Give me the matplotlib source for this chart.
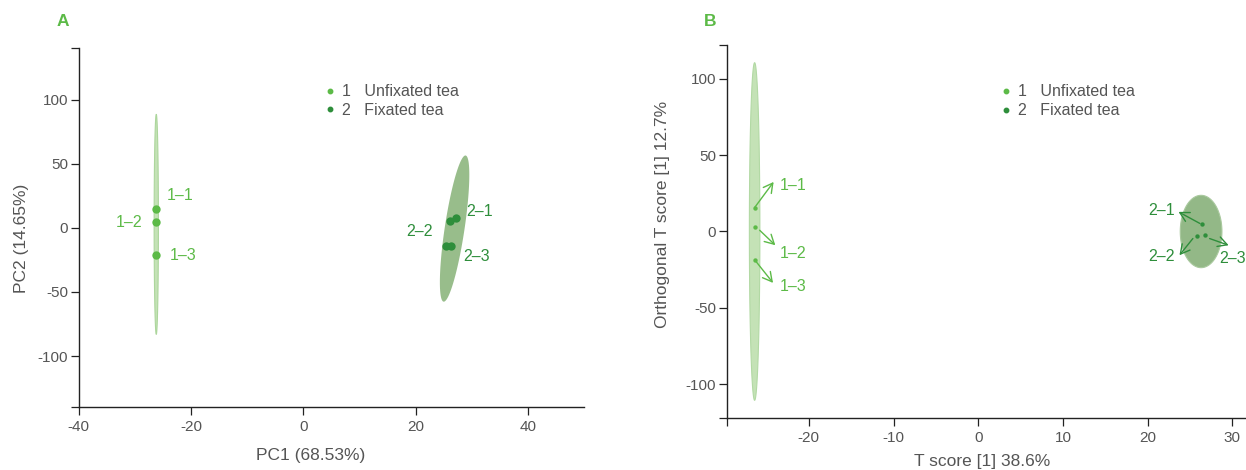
import numpy as np
import matplotlib.pyplot as plt
from matplotlib.lines import Line2D
from matplotlib.transforms import offset_copy

plt.rcParams['font.family'] = ['Liberation Sans', 'DejaVu Sans']
plt.rcParams['axes.unicode_minus'] = False

LIGHT = '#5cba47'
DARK = '#2e8e3b'
GRAY = '#555555'

# --- A: PCA scores ---
pca_x1 = [-26.2, -26.2, -26.2]
pca_y1 = [14.7, 4.5, -21.2]
pca_x2 = [27.1, 26.0, 25.3, 26.2]
pca_y2 = [7.4, 5.3, -14.0, -14.0]
pca_lab1 = ['1–1', '1–2', '1–3']
pca_lab2 = ['2–1', '2–2', '2–3']
pca_lab2_idx = [0, 1, 3]
# ellipse = centre, semi-major vector, semi-minor vector (data units)
pca_ell1 = ((-26.2, 2.7), (0.0, 85.8), (0.38, 0.0))
pca_ell2 = ((26.9, -0.6), (1.96, 57.0), (1.74, -1.15))

# --- B: OPLS-DA scores ---
opls_x1 = [-26.4, -26.4, -26.4]
opls_y1 = [15.7, 3.0, -18.8]
opls_x2 = [26.4, 25.8, 26.8]
opls_y2 = [4.6, -2.9, -2.0]
opls_lab1 = ['1–1', '1–2', '1–3']
opls_lab2 = ['2–1', '2–2', '2–3']
opls_ell1 = ((-26.4, 0.0), (0.0, 110.6), (0.62, 0.0))
opls_ell2 = ((26.3, 0.0), (0.0, 23.7), (2.46, 0.0))

groups = ['Unfixated tea', 'Fixated tea']


def fill_ellipse(ax, ell, color, edge=None):
    (cx, cy), (ax_, ay_), (bx, by) = ell
    t = np.linspace(0, 2 * np.pi, 200)
    x = cx + ax_ * np.cos(t) + bx * np.sin(t)
    y = cy + ay_ * np.cos(t) + by * np.sin(t)
    ax.fill(x, y, facecolor=color, edgecolor=edge or 'none', lw=0.8, zorder=1)


def style_axes(ax, xt, xtl, yt, ytl, xlim, ylim):
    ax.set_xlim(*xlim)
    ax.set_ylim(*ylim)
    ax.set_xticks(xt)
    ax.set_xticklabels(xtl)
    ax.set_yticks(yt)
    ax.set_yticklabels(ytl)
    for s in ['top', 'right']:
        ax.spines[s].set_visible(False)
    for s in ['left', 'bottom']:
        ax.spines[s].set_color('#222222')
        ax.spines[s].set_linewidth(1.0)
    ax.tick_params(direction='out', length=5.5, width=0.9, color='#222222',
                   labelsize=11, labelcolor=GRAY)
    ax.tick_params(axis='x', pad=4)
    ax.tick_params(axis='y', pad=2)


def add_legend(ax, anchor):
    handles = [Line2D([], [], ls='none', marker='o', ms=3.2, color=c) for c in (LIGHT, DARK)]
    labels = [f'{i + 1}   {g}' for i, g in enumerate(groups)]
    leg = ax.legend(handles, labels, loc='center left', bbox_to_anchor=anchor,
                    frameon=False, fontsize=11.5, handlelength=0.5, handletextpad=0.5,
                    borderpad=0, borderaxespad=0, labelspacing=0.25)
    for t in leg.get_texts():
        t.set_color(GRAY)


fig = plt.figure(figsize=(12.46, 4.70), dpi=100)
axA = fig.add_axes([0.0632, 0.1334, 0.4058, 0.7638])
axB = fig.add_axes([0.5832, 0.1113, 0.4168, 0.7923])

# ---------- A ----------
fill_ellipse(axA, pca_ell1, '#c4e2b6', '#acd69c')
fill_ellipse(axA, pca_ell2, '#98bd8b')
axA.scatter(pca_x1, pca_y1, s=36, color=LIGHT, zorder=3, lw=0)
axA.scatter(pca_x2, pca_y2, s=36, color=DARK, zorder=3, lw=0)

offA1 = [(10, 13, 'left'), (-13.5, 0, 'right'), (13, -1, 'left')]
for x, y, lab, (dx, dy, ha) in zip(pca_x1, pca_y1, pca_lab1, offA1):
    axA.annotate(lab, (x, y), xytext=(dx, dy), textcoords='offset pixels',
                 ha=ha, va='center', color=LIGHT, fontsize=11.5)
offA2 = [(11, 6.6, 'left'), (-17, -10.7, 'right'), (13, -11, 'left')]
for i, lab, (dx, dy, ha) in zip(pca_lab2_idx, pca_lab2, offA2):
    axA.annotate(lab, (pca_x2[i], pca_y2[i]), xytext=(dx, dy), textcoords='offset pixels',
                 ha=ha, va='center', color=DARK, fontsize=11.5)

style_axes(axA, [-40, -20, 0, 20, 40], ['-40', '-20', '0', '20', '40'],
           [-140, -100, -50, 0, 50, 100, 140], ['', '-100', '-50', '0', '50', '100', ''],
           (-40, 50), (-140, 140))
add_legend(axA, (0.489, 0.853))
axA.set_xlabel('PC1 (68.53%)', fontsize=12.5, color=GRAY, va='center')
axA.xaxis.set_label_coords(0.459, -0.134)
axA.set_ylabel('PC2 (14.65%)', fontsize=12.5, color=GRAY, va='center', ha='center')
axA.yaxis.set_label_coords(-0.114, 0.471)

# ---------- B ----------
fill_ellipse(axB, opls_ell1, '#c4e2b6', '#b2d9a4')
fill_ellipse(axB, opls_ell2, '#93b887', '#a9c99e')
axB.scatter(opls_x1, opls_y1, s=10, color=LIGHT, zorder=3, lw=0)
axB.scatter(opls_x2, opls_y2, s=10, color=DARK, zorder=3, lw=0)

# (start offset, tip offset, text offset, ha) in pixels from each point
arrB1 = [((0, 0), (19, 25.6), (25, 22.3), 'left'),
         ((5, -3.3), (20.7, -18.3), (25, -26.6), 'left'),
         ((1.7, -1.7), (18.4, -22.7), (25, -26), 'left')]
arrB2 = [((-2, 1), (-23.4, 12.6), (-26.7, 13.6), 'right'),
         ((-4, -2.6), (-17.4, -19.3), (-21.7, -20.3), 'right'),
         ((4.3, -4), (23.3, -10.7), (14, -24), 'left')]


def arrow_labels(ax, xs, ys, labs, specs, color):
    for x, y, lab, (st, tip, txt, ha) in zip(xs, ys, labs, specs):
        tr_tip = offset_copy(ax.transData, fig=fig, x=tip[0], y=tip[1], units='dots')
        tr_st = offset_copy(ax.transData, fig=fig, x=st[0], y=st[1], units='dots')
        ax.annotate('', xy=(x, y), xycoords=tr_tip, xytext=(x, y), textcoords=tr_st,
                    arrowprops=dict(arrowstyle='->,head_length=0.55,head_width=0.3',
                                    color=color, lw=1.0,
                                    shrinkA=0, shrinkB=0, mutation_scale=12))
        ax.annotate(lab, (x, y), xytext=txt, textcoords='offset pixels',
                    ha=ha, va='center', color=color, fontsize=11.5, annotation_clip=False)


arrow_labels(axB, opls_x1, opls_y1, opls_lab1, arrB1, LIGHT)
arrow_labels(axB, opls_x2, opls_y2, opls_lab2, arrB2, DARK)

style_axes(axB, [-29.7, -20, -10, 0, 10, 20, 30], ['', '-20', '-10', '0', '10', '20', '30'],
           [-122, -100, -50, 0, 50, 100, 122], ['', '-100', '-50', '0', '50', '100', ''],
           (-29.7, 31.6), (-122, 122))
add_legend(axB, (0.530, 0.850))
axB.set_xlabel('T score [1] 38.6%', fontsize=12.5, color=GRAY, va='center')
axB.xaxis.set_label_coords(0.491, -0.1176)
axB.set_ylabel('Orthogonal T score [1] 12.7%', fontsize=12.5, color=GRAY, va='center', ha='center')
axB.yaxis.set_label_coords(-0.1227, 0.547)

fig.text(0.0504, 0.9538, 'A', fontsize=12.5, fontweight='bold', color=LIGHT, ha='center', va='center')
fig.text(0.5698, 0.9538, 'B', fontsize=12.5, fontweight='bold', color=LIGHT, ha='center', va='center')

fig.savefig('out.png', dpi=100)
